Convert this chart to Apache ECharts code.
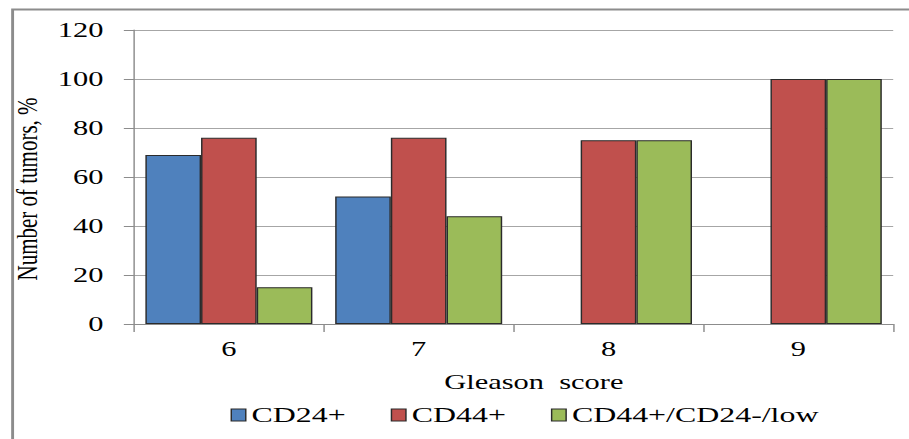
<!DOCTYPE html>
<html>
<head>
<meta charset="utf-8">
<script src="https://cdn.jsdelivr.net/npm/echarts@6/dist/echarts.min.js"></script>
<style>
  html, body { margin: 0; padding: 0; background: #fff; overflow: hidden; }
  #wrap { width: 909px; height: 439px; overflow: hidden; }
  #chart { width: 626.9px; height: 439px; transform: scaleX(1.45); transform-origin: left top; }
</style>
</head>
<body>
<div id="wrap"><div id="chart"></div></div>
<script>
const categories = ['6', '7', '8', '9'];
const seriesNames = ['CD24+', 'CD44+', 'CD44+/CD24-/low'];
const cd24 = [69, 52, null, null];
const cd44 = [76, 76, 75, 100];
const cd44cd24low = [15, 44, 75, 100];
const yTicks = { min: 0, max: 120, interval: 20 };

const font = 'Liberation Serif, Times New Roman, serif';
const chart = echarts.init(document.getElementById('chart'), null, { renderer: 'svg' });
const barStyle = (c) => ({ color: c, borderColor: '#2b2b2b', borderWidth: 1 });

chart.setOption({
  animation: false,
  backgroundColor: '#fff',
  graphic: [{
    type: 'rect', left: 6.2, top: 7, silent: true,
    shape: { width: 700, height: 500 },
    style: { fill: 'none', stroke: '#8c8c8c', lineWidth: 2 }
  }],
  grid: { left: 92.4, right: 11, top: 30, bottom: 115 },
  legend: {
    data: seriesNames,
    left: 154, top: 399,
    itemWidth: 10, itemHeight: 12, itemGap: 31,
    icon: 'rect',
    textStyle: { fontFamily: font, fontSize: 22, color: '#000', padding: [0, 0, 0, -1] },
    itemStyle: { borderColor: '#2b2b2b', borderWidth: 1 }
  },
  xAxis: {
    type: 'category',
    data: categories,
    name: 'Gleason  score',
    nameLocation: 'middle',
    nameGap: 48,
    nameTextStyle: { fontFamily: font, fontSize: 21, color: '#000', padding: [0, 0, 0, 28] },
    axisLine: { lineStyle: { color: '#8c8c8c', width: 1 } },
    axisTick: { show: true, alignWithLabel: false, length: 8, lineStyle: { color: '#8c8c8c' } },
    axisLabel: { fontFamily: font, fontSize: 21, color: '#000', margin: 15 },
    splitLine: { show: false }
  },
  yAxis: {
    type: 'value',
    min: yTicks.min, max: yTicks.max, interval: yTicks.interval,
    name: 'Number of tumors, %',
    nameLocation: 'middle',
    nameRotate: 90,
    nameGap: 48,
    nameTextStyle: { fontFamily: font, fontSize: 21, color: '#000', padding: [0, 24, 0, 0] },
    axisLine: { show: true, lineStyle: { color: '#8c8c8c', width: 1 } },
    axisTick: { show: true, length: 7, lineStyle: { color: '#8c8c8c' } },
    axisLabel: { fontFamily: font, fontSize: 21, color: '#000', margin: 21 },
    splitLine: { show: true, lineStyle: { color: '#a6a6a6', width: 1 } }
  },
  series: [
    { name: seriesNames[0], type: 'bar', data: cd24, barGap: '0%', barCategoryGap: '12%', itemStyle: barStyle('#4F81BD') },
    { name: seriesNames[1], type: 'bar', data: cd44, barGap: '0%', barCategoryGap: '12%', itemStyle: barStyle('#C0504D') },
    { name: seriesNames[2], type: 'bar', data: cd44cd24low, barGap: '0%', barCategoryGap: '12%', itemStyle: barStyle('#9BBB59') }
  ]
});
</script>
</body>
</html>
